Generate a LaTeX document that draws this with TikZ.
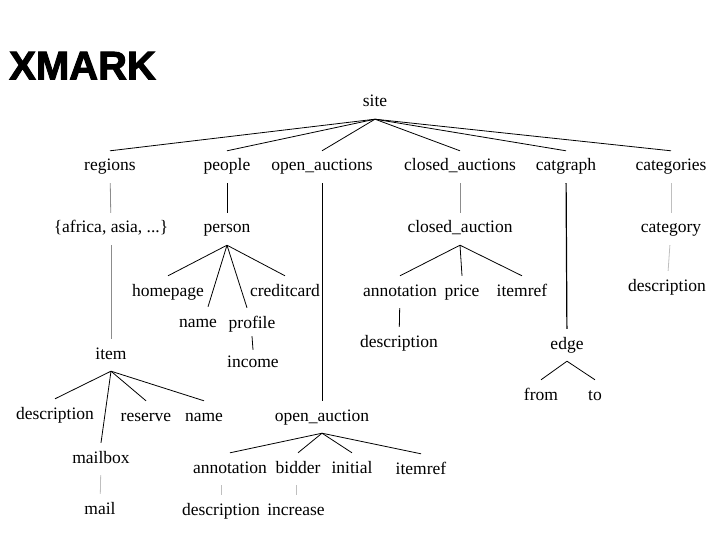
\documentclass[tikz,border=0pt]{standalone}
\usepackage{fontspec}
\setmainfont{Liberation Serif}
\newfontfamily\titlefont[FakeBold=2.5]{Liberation Sans}
\tikzset{
  tag/.style={font=\fontsize{17.5}{18}\selectfont, text height=12pt, text depth=4pt, inner xsep=2pt, inner ysep=8pt},
  link/.style={draw=black, line width=0.8pt},
  faint/.style={draw=black!45, line width=0.8pt}
}

\begin{document}
\begin{tikzpicture}[x=1pt,y=-1pt,every node/.style={tag}]
\useasboundingbox (0,0) rectangle (720,540);
\node[font=\titlefont\bfseries\fontsize{40}{42}\selectfont, anchor=west, inner sep=0pt, text height=29pt, text depth=0pt] (title) at (9,65) {XMARK};
% level 1
\node (site) at (375,103) {site};
\node (regions) at (110,167) {regions};
\node (people) at (227,167) {people};
\node (openauctions) at (322,167) {open\_auctions};
\node (closedauctions) at (460,167) {closed\_auctions};
\node (catgraph) at (566,167) {catgraph};
\node (categories) at (671,167) {categories};
% level 2
\node (continents) at (111,229) {\{africa, asia, ...\}};
\node (person) at (227,229) {person};
\node (closedauction) at (460,229) {closed\_auction};
\node (category) at (671,229) {category};
% person
\node (homepage) at (168,292) {homepage};
\node (pname) at (198,323) {name};
\node (profile) at (252,324) {profile};
\node (creditcard) at (285,292) {creditcard};
\node (income) at (253,363) {income};
% closed auction
\node (cannotation) at (400,292) {annotation};
\node (cprice) at (462,292) {price};
\node (citemref) at (522,292) {itemref};
\node (cdesc) at (399,343) {description};
\node (catdesc) at (667,287) {description};
% catgraph
\node (gedge) at (567,345) {edge};
\node (efrom) at (541,396) {from};
\node (eto) at (595,396) {to};
% item
\node (item) at (111,355) {item};
\node (idesc) at (55,415) {description};
\node (ireserve) at (146,417) {reserve};
\node (iname) at (204,417) {name};
\node (mailbox) at (101,459) {mailbox};
\node (mail) at (100,510) {mail};
% open auction
\node (openauction) at (322,417) {open\_auction};
\node (oannotation) at (230,469) {annotation};
\node (obidder) at (298,469) {bidder};
\node (oinitial) at (352,469) {initial};
\node (oitemref) at (421,470) {itemref};
\node (odesc) at (221,511) {description};
\node (oincrease) at (296,511) {increase};

\foreach \c in {regions,people,openauctions,closedauctions,catgraph,categories}
  \draw[link] (site.south) -- (\c.north);
\foreach \c in {homepage,creditcard}
  \draw[link] (person.south) -- (\c.north);
\draw[link] (person.south) -- ([xshift=10pt]pname.north);
\draw[link] (person.south) -- ([xshift=-5pt]profile.north);
\foreach \c in {cannotation,cprice,citemref}
  \draw[link] (closedauction.south) -- (\c.north);
\foreach \c in {idesc,ireserve,iname,mailbox}
  \draw[link] (item.south) -- (\c.north);
\foreach \c in {oannotation,obidder,oinitial,oitemref}
  \draw[link] (openauction.south) -- (\c.north);
\draw[link] (gedge.south) -- (efrom.north);
\draw[link] (gedge.south) -- (eto.north);
\draw[link] (people) -- (person);
\draw[link] (openauctions) -- (openauction);
\draw[link, line width=1.2pt] (catgraph) -- (gedge);
\draw[link] ([yshift=4pt]profile.south) -- ([yshift=-3pt]income.north);
\draw[link] (cannotation) -- (cdesc);
\draw[faint] (regions) -- (continents);
\draw[faint] (continents) -- (item);
\draw[faint] (closedauctions) -- (closedauction);
\draw[faint, draw=black!25] (categories) -- (category);
\draw[faint, draw=black!25] (category) -- (catdesc);
\draw[faint, draw=black!25] (mailbox) -- (mail);
\draw[faint, draw=black!25] (oannotation.south -| odesc) -- (odesc);
\draw[faint, draw=black!25] (obidder.south -| oincrease) -- (oincrease);
\end{tikzpicture}
\end{document}
